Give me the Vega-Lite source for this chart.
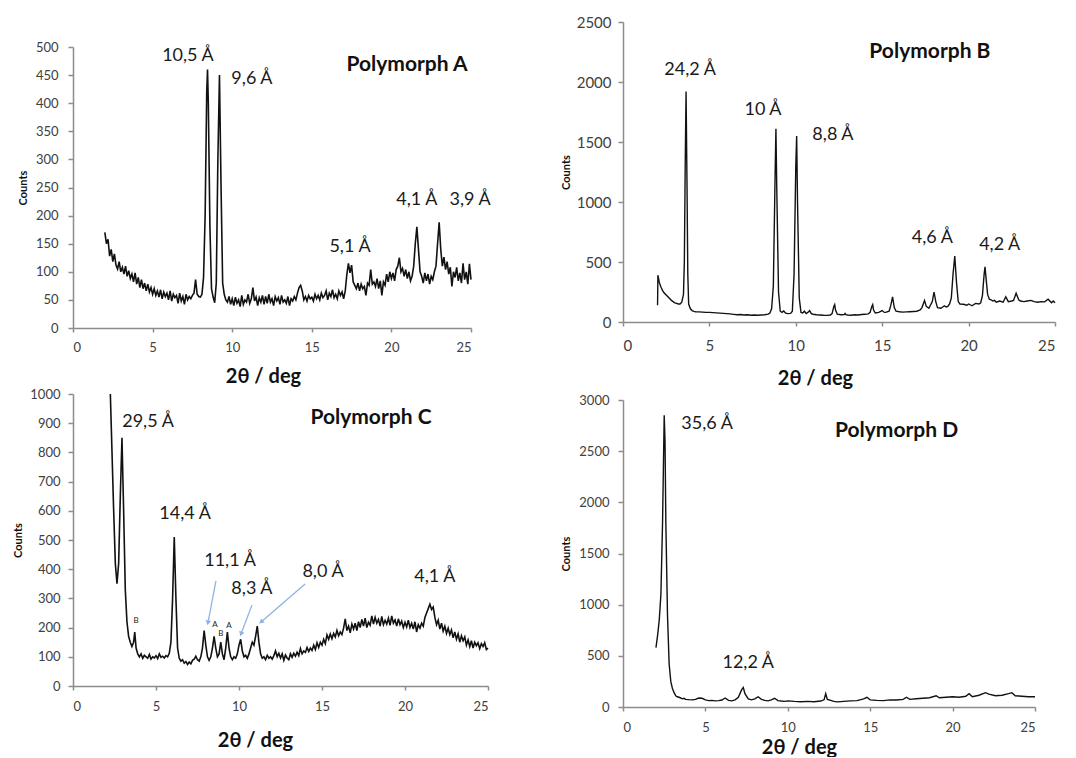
{
"$schema": "https://vega.github.io/schema/vega-lite/v6.json",
"padding": {"left": 12, "top": 15, "right": 5, "bottom": 0},
"background": "white",
"config": {
  "font": "Lato",
  "view": {"stroke": null},
  "axis": {"grid": false, "format": "d", "domainColor": "#8c8c8c", "tickColor": "#8c8c8c", "domainWidth": 1.5, "tickWidth": 1.5, "labelColor": "#404040", "titleColor": "#111111", "labelFont": "Lato", "titleFont": "Lato", "labelFontSize": 13, "titleFontWeight": "bold"},
  "text": {"font": "Lato"},
  "title": {"font": "Lato"}
},
"datasets": {
"A": [{"t":2.0,"c":170},{"t":2.1,"c":150},{"t":2.2,"c":158},{"t":2.3,"c":128},{"t":2.4,"c":140},{"t":2.5,"c":118},{"t":2.6,"c":132},{"t":2.7,"c":112},{"t":2.8,"c":105},{"t":2.9,"c":118},{"t":3.0,"c":100},{"t":3.1,"c":108},{"t":3.2,"c":96},{"t":3.3,"c":110},{"t":3.4,"c":92},{"t":3.5,"c":102},{"t":3.6,"c":88},{"t":3.7,"c":96},{"t":3.8,"c":82},{"t":3.9,"c":98},{"t":4.0,"c":78},{"t":4.1,"c":90},{"t":4.2,"c":72},{"t":4.3,"c":86},{"t":4.4,"c":70},{"t":4.5,"c":80},{"t":4.6,"c":66},{"t":4.7,"c":78},{"t":4.8,"c":64},{"t":4.9,"c":72},{"t":5.0,"c":60},{"t":5.1,"c":70},{"t":5.2,"c":58},{"t":5.3,"c":66},{"t":5.4,"c":55},{"t":5.5,"c":68},{"t":5.6,"c":52},{"t":5.7,"c":64},{"t":5.8,"c":56},{"t":5.9,"c":62},{"t":6.0,"c":50},{"t":6.1,"c":66},{"t":6.2,"c":48},{"t":6.3,"c":60},{"t":6.4,"c":54},{"t":6.5,"c":58},{"t":6.6,"c":44},{"t":6.7,"c":62},{"t":6.8,"c":48},{"t":6.9,"c":56},{"t":7.0,"c":42},{"t":7.1,"c":60},{"t":7.2,"c":50},{"t":7.3,"c":56},{"t":7.4,"c":52},{"t":7.5,"c":58},{"t":7.6,"c":62},{"t":7.7,"c":86},{"t":7.8,"c":60},{"t":7.9,"c":56},{"t":8.0,"c":55},{"t":8.1,"c":60},{"t":8.2,"c":90},{"t":8.3,"c":200},{"t":8.4,"c":420},{"t":8.45,"c":460},{"t":8.5,"c":400},{"t":8.6,"c":180},{"t":8.7,"c":70},{"t":8.8,"c":55},{"t":8.9,"c":45},{"t":9.0,"c":80},{"t":9.1,"c":300},{"t":9.2,"c":450},{"t":9.3,"c":250},{"t":9.4,"c":80},{"t":9.5,"c":60},{"t":9.6,"c":50},{"t":9.7,"c":46},{"t":9.8,"c":56},{"t":9.9,"c":42},{"t":10.0,"c":52},{"t":10.1,"c":40},{"t":10.2,"c":55},{"t":10.3,"c":44},{"t":10.4,"c":50},{"t":10.5,"c":38},{"t":10.6,"c":58},{"t":10.7,"c":42},{"t":10.8,"c":50},{"t":10.9,"c":46},{"t":11.0,"c":60},{"t":11.1,"c":44},{"t":11.2,"c":52},{"t":11.3,"c":72},{"t":11.4,"c":48},{"t":11.5,"c":55},{"t":11.6,"c":40},{"t":11.7,"c":54},{"t":11.8,"c":46},{"t":11.9,"c":58},{"t":12.0,"c":42},{"t":12.1,"c":56},{"t":12.2,"c":44},{"t":12.3,"c":60},{"t":12.4,"c":46},{"t":12.5,"c":52},{"t":12.6,"c":40},{"t":12.7,"c":56},{"t":12.8,"c":48},{"t":12.9,"c":54},{"t":13.0,"c":42},{"t":13.1,"c":58},{"t":13.2,"c":46},{"t":13.3,"c":50},{"t":13.4,"c":44},{"t":13.5,"c":56},{"t":13.6,"c":40},{"t":13.7,"c":52},{"t":13.8,"c":48},{"t":13.9,"c":56},{"t":14.0,"c":50},{"t":14.1,"c":62},{"t":14.2,"c":72},{"t":14.3,"c":76},{"t":14.4,"c":66},{"t":14.5,"c":50},{"t":14.6,"c":56},{"t":14.7,"c":48},{"t":14.8,"c":58},{"t":14.9,"c":52},{"t":15.0,"c":55},{"t":15.1,"c":48},{"t":15.2,"c":60},{"t":15.3,"c":52},{"t":15.4,"c":58},{"t":15.5,"c":50},{"t":15.6,"c":62},{"t":15.7,"c":54},{"t":15.8,"c":58},{"t":15.9,"c":66},{"t":16.0,"c":50},{"t":16.1,"c":62},{"t":16.2,"c":56},{"t":16.3,"c":68},{"t":16.4,"c":54},{"t":16.5,"c":60},{"t":16.6,"c":52},{"t":16.7,"c":66},{"t":16.8,"c":58},{"t":16.9,"c":64},{"t":17.0,"c":52},{"t":17.1,"c":66},{"t":17.2,"c":95},{"t":17.3,"c":115},{"t":17.4,"c":98},{"t":17.5,"c":112},{"t":17.6,"c":82},{"t":17.7,"c":76},{"t":17.8,"c":70},{"t":17.9,"c":80},{"t":18.0,"c":66},{"t":18.1,"c":78},{"t":18.2,"c":70},{"t":18.3,"c":74},{"t":18.4,"c":58},{"t":18.5,"c":80},{"t":18.6,"c":76},{"t":18.7,"c":104},{"t":18.8,"c":78},{"t":18.9,"c":82},{"t":19.0,"c":74},{"t":19.1,"c":88},{"t":19.2,"c":70},{"t":19.3,"c":84},{"t":19.4,"c":58},{"t":19.5,"c":82},{"t":19.6,"c":76},{"t":19.7,"c":96},{"t":19.8,"c":82},{"t":19.9,"c":100},{"t":20.0,"c":88},{"t":20.1,"c":98},{"t":20.2,"c":84},{"t":20.3,"c":104},{"t":20.4,"c":110},{"t":20.5,"c":125},{"t":20.6,"c":100},{"t":20.7,"c":106},{"t":20.8,"c":92},{"t":20.9,"c":104},{"t":21.0,"c":88},{"t":21.1,"c":100},{"t":21.2,"c":84},{"t":21.3,"c":92},{"t":21.4,"c":110},{"t":21.5,"c":150},{"t":21.6,"c":180},{"t":21.7,"c":140},{"t":21.8,"c":100},{"t":21.9,"c":92},{"t":22.0,"c":80},{"t":22.1,"c":98},{"t":22.2,"c":84},{"t":22.3,"c":96},{"t":22.4,"c":78},{"t":22.5,"c":92},{"t":22.6,"c":86},{"t":22.7,"c":100},{"t":22.8,"c":110},{"t":22.9,"c":150},{"t":23.0,"c":188},{"t":23.1,"c":140},{"t":23.2,"c":110},{"t":23.3,"c":126},{"t":23.4,"c":104},{"t":23.5,"c":118},{"t":23.6,"c":96},{"t":23.7,"c":108},{"t":23.8,"c":74},{"t":23.9,"c":100},{"t":24.0,"c":90},{"t":24.1,"c":108},{"t":24.2,"c":84},{"t":24.3,"c":98},{"t":24.4,"c":80},{"t":24.5,"c":115},{"t":24.6,"c":86},{"t":24.7,"c":100},{"t":24.8,"c":78},{"t":24.9,"c":114},{"t":25.0,"c":86}],
"B": [{"t":2.0,"c":140},{"t":2.02,"c":390},{"t":2.1,"c":330},{"t":2.2,"c":290},{"t":2.3,"c":260},{"t":2.4,"c":240},{"t":2.5,"c":225},{"t":2.6,"c":210},{"t":2.7,"c":195},{"t":2.8,"c":180},{"t":2.9,"c":170},{"t":3.0,"c":160},{"t":3.1,"c":155},{"t":3.2,"c":150},{"t":3.3,"c":150},{"t":3.4,"c":165},{"t":3.5,"c":230},{"t":3.55,"c":500},{"t":3.6,"c":1300},{"t":3.65,"c":1920},{"t":3.7,"c":1200},{"t":3.75,"c":400},{"t":3.8,"c":150},{"t":3.9,"c":110},{"t":4.0,"c":95},{"t":4.1,"c":88},{"t":4.2,"c":86},{"t":4.4,"c":84},{"t":4.6,"c":82},{"t":4.8,"c":80},{"t":5.0,"c":80},{"t":5.2,"c":78},{"t":5.4,"c":76},{"t":5.6,"c":74},{"t":5.8,"c":72},{"t":6.0,"c":70},{"t":6.2,"c":68},{"t":6.4,"c":64},{"t":6.6,"c":60},{"t":6.8,"c":62},{"t":7.0,"c":58},{"t":7.2,"c":60},{"t":7.4,"c":56},{"t":7.6,"c":58},{"t":7.8,"c":56},{"t":8.0,"c":58},{"t":8.2,"c":60},{"t":8.4,"c":66},{"t":8.5,"c":75},{"t":8.6,"c":110},{"t":8.7,"c":300},{"t":8.8,"c":1200},{"t":8.85,"c":1610},{"t":8.9,"c":1100},{"t":9.0,"c":250},{"t":9.1,"c":90},{"t":9.2,"c":80},{"t":9.3,"c":92},{"t":9.4,"c":75},{"t":9.5,"c":70},{"t":9.7,"c":72},{"t":9.8,"c":90},{"t":9.9,"c":400},{"t":10.0,"c":1300},{"t":10.05,"c":1550},{"t":10.1,"c":1000},{"t":10.2,"c":200},{"t":10.3,"c":80},{"t":10.4,"c":75},{"t":10.5,"c":90},{"t":10.6,"c":70},{"t":10.7,"c":80},{"t":10.8,"c":95},{"t":10.9,"c":70},{"t":11.0,"c":65},{"t":11.2,"c":60},{"t":11.4,"c":58},{"t":11.6,"c":56},{"t":11.8,"c":55},{"t":12.0,"c":58},{"t":12.1,"c":70},{"t":12.2,"c":130},{"t":12.25,"c":145},{"t":12.3,"c":100},{"t":12.4,"c":65},{"t":12.6,"c":60},{"t":12.8,"c":62},{"t":12.85,"c":72},{"t":12.9,"c":62},{"t":13.0,"c":58},{"t":13.2,"c":56},{"t":13.4,"c":60},{"t":13.6,"c":58},{"t":13.8,"c":62},{"t":14.0,"c":64},{"t":14.2,"c":68},{"t":14.3,"c":80},{"t":14.4,"c":130},{"t":14.45,"c":145},{"t":14.5,"c":100},{"t":14.6,"c":75},{"t":14.8,"c":80},{"t":15.0,"c":95},{"t":15.1,"c":82},{"t":15.2,"c":80},{"t":15.4,"c":90},{"t":15.5,"c":140},{"t":15.6,"c":210},{"t":15.7,"c":120},{"t":15.8,"c":90},{"t":16.0,"c":85},{"t":16.2,"c":82},{"t":16.4,"c":84},{"t":16.6,"c":86},{"t":16.8,"c":88},{"t":17.0,"c":90},{"t":17.2,"c":100},{"t":17.3,"c":120},{"t":17.45,"c":180},{"t":17.55,"c":130},{"t":17.7,"c":115},{"t":17.9,"c":170},{"t":18.0,"c":250},{"t":18.1,"c":170},{"t":18.2,"c":120},{"t":18.4,"c":115},{"t":18.6,"c":135},{"t":18.7,"c":125},{"t":18.8,"c":130},{"t":18.9,"c":150},{"t":19.0,"c":200},{"t":19.1,"c":400},{"t":19.2,"c":550},{"t":19.3,"c":330},{"t":19.4,"c":170},{"t":19.5,"c":150},{"t":19.7,"c":148},{"t":19.9,"c":140},{"t":20.0,"c":150},{"t":20.2,"c":135},{"t":20.4,"c":155},{"t":20.6,"c":150},{"t":20.7,"c":160},{"t":20.8,"c":220},{"t":20.9,"c":400},{"t":20.95,"c":460},{"t":21.0,"c":380},{"t":21.1,"c":230},{"t":21.2,"c":190},{"t":21.3,"c":185},{"t":21.4,"c":175},{"t":21.5,"c":180},{"t":21.6,"c":165},{"t":21.8,"c":175},{"t":22.0,"c":165},{"t":22.15,"c":210},{"t":22.3,"c":170},{"t":22.5,"c":175},{"t":22.6,"c":180},{"t":22.75,"c":240},{"t":22.9,"c":185},{"t":23.0,"c":175},{"t":23.2,"c":170},{"t":23.4,"c":175},{"t":23.6,"c":180},{"t":23.8,"c":170},{"t":24.0,"c":165},{"t":24.2,"c":170},{"t":24.4,"c":168},{"t":24.6,"c":190},{"t":24.8,"c":160},{"t":24.9,"c":175},{"t":25.0,"c":160}],
"C": [{"t":2.25,"c":1000},{"t":2.35,"c":800},{"t":2.45,"c":600},{"t":2.55,"c":420},{"t":2.65,"c":350},{"t":2.75,"c":420},{"t":2.85,"c":650},{"t":2.95,"c":850},{"t":3.05,"c":600},{"t":3.15,"c":330},{"t":3.25,"c":220},{"t":3.35,"c":170},{"t":3.45,"c":150},{"t":3.55,"c":135},{"t":3.65,"c":150},{"t":3.72,"c":185},{"t":3.8,"c":130},{"t":3.9,"c":110},{"t":4.0,"c":100},{"t":4.1,"c":110},{"t":4.2,"c":95},{"t":4.3,"c":105},{"t":4.4,"c":100},{"t":4.5,"c":95},{"t":4.6,"c":108},{"t":4.7,"c":92},{"t":4.8,"c":100},{"t":4.9,"c":96},{"t":5.0,"c":104},{"t":5.1,"c":94},{"t":5.2,"c":110},{"t":5.3,"c":98},{"t":5.4,"c":102},{"t":5.5,"c":96},{"t":5.6,"c":104},{"t":5.7,"c":100},{"t":5.8,"c":112},{"t":5.9,"c":150},{"t":6.0,"c":300},{"t":6.1,"c":510},{"t":6.2,"c":300},{"t":6.3,"c":130},{"t":6.4,"c":95},{"t":6.5,"c":85},{"t":6.6,"c":90},{"t":6.7,"c":78},{"t":6.8,"c":84},{"t":6.9,"c":74},{"t":7.0,"c":82},{"t":7.1,"c":76},{"t":7.2,"c":88},{"t":7.3,"c":92},{"t":7.4,"c":102},{"t":7.5,"c":90},{"t":7.6,"c":85},{"t":7.7,"c":100},{"t":7.8,"c":130},{"t":7.9,"c":190},{"t":8.0,"c":140},{"t":8.1,"c":100},{"t":8.2,"c":88},{"t":8.3,"c":100},{"t":8.4,"c":130},{"t":8.5,"c":170},{"t":8.6,"c":130},{"t":8.7,"c":100},{"t":8.8,"c":110},{"t":8.9,"c":150},{"t":9.0,"c":110},{"t":9.1,"c":90},{"t":9.2,"c":130},{"t":9.3,"c":185},{"t":9.4,"c":130},{"t":9.5,"c":100},{"t":9.6,"c":90},{"t":9.7,"c":100},{"t":9.8,"c":95},{"t":9.9,"c":110},{"t":10.0,"c":140},{"t":10.1,"c":160},{"t":10.2,"c":120},{"t":10.3,"c":100},{"t":10.4,"c":105},{"t":10.5,"c":95},{"t":10.6,"c":110},{"t":10.7,"c":130},{"t":10.8,"c":150},{"t":10.9,"c":140},{"t":11.0,"c":170},{"t":11.1,"c":205},{"t":11.2,"c":150},{"t":11.3,"c":110},{"t":11.4,"c":95},{"t":11.5,"c":100},{"t":11.6,"c":90},{"t":11.7,"c":105},{"t":11.8,"c":95},{"t":11.9,"c":100},{"t":12.0,"c":92},{"t":12.1,"c":104},{"t":12.2,"c":120},{"t":12.3,"c":100},{"t":12.4,"c":112},{"t":12.5,"c":96},{"t":12.6,"c":110},{"t":12.7,"c":88},{"t":12.8,"c":106},{"t":12.9,"c":96},{"t":13.0,"c":90},{"t":13.1,"c":110},{"t":13.2,"c":98},{"t":13.3,"c":112},{"t":13.4,"c":102},{"t":13.5,"c":116},{"t":13.6,"c":104},{"t":13.7,"c":128},{"t":13.8,"c":110},{"t":13.9,"c":120},{"t":14.0,"c":115},{"t":14.1,"c":132},{"t":14.2,"c":118},{"t":14.3,"c":130},{"t":14.4,"c":122},{"t":14.5,"c":140},{"t":14.6,"c":125},{"t":14.7,"c":148},{"t":14.8,"c":132},{"t":14.9,"c":150},{"t":15.0,"c":140},{"t":15.1,"c":160},{"t":15.2,"c":145},{"t":15.3,"c":175},{"t":15.4,"c":160},{"t":15.5,"c":178},{"t":15.6,"c":162},{"t":15.7,"c":180},{"t":15.8,"c":168},{"t":15.9,"c":190},{"t":16.0,"c":172},{"t":16.1,"c":185},{"t":16.2,"c":176},{"t":16.3,"c":198},{"t":16.4,"c":230},{"t":16.5,"c":190},{"t":16.6,"c":205},{"t":16.7,"c":182},{"t":16.8,"c":212},{"t":16.9,"c":195},{"t":17.0,"c":215},{"t":17.1,"c":190},{"t":17.2,"c":220},{"t":17.3,"c":200},{"t":17.4,"c":228},{"t":17.5,"c":205},{"t":17.6,"c":232},{"t":17.7,"c":200},{"t":17.8,"c":218},{"t":17.9,"c":208},{"t":18.0,"c":240},{"t":18.1,"c":212},{"t":18.2,"c":235},{"t":18.3,"c":215},{"t":18.4,"c":228},{"t":18.5,"c":205},{"t":18.6,"c":238},{"t":18.7,"c":210},{"t":18.8,"c":225},{"t":18.9,"c":212},{"t":19.0,"c":232},{"t":19.1,"c":208},{"t":19.2,"c":240},{"t":19.3,"c":215},{"t":19.4,"c":226},{"t":19.5,"c":205},{"t":19.6,"c":230},{"t":19.7,"c":210},{"t":19.8,"c":222},{"t":19.9,"c":200},{"t":20.0,"c":218},{"t":20.1,"c":202},{"t":20.2,"c":225},{"t":20.3,"c":200},{"t":20.4,"c":215},{"t":20.5,"c":195},{"t":20.6,"c":220},{"t":20.7,"c":185},{"t":20.8,"c":210},{"t":20.9,"c":198},{"t":21.0,"c":215},{"t":21.1,"c":205},{"t":21.2,"c":235},{"t":21.3,"c":250},{"t":21.4,"c":265},{"t":21.5,"c":280},{"t":21.6,"c":262},{"t":21.7,"c":270},{"t":21.8,"c":235},{"t":21.9,"c":210},{"t":22.0,"c":225},{"t":22.1,"c":195},{"t":22.2,"c":215},{"t":22.3,"c":188},{"t":22.4,"c":205},{"t":22.5,"c":180},{"t":22.6,"c":198},{"t":22.7,"c":176},{"t":22.8,"c":192},{"t":22.9,"c":165},{"t":23.0,"c":185},{"t":23.1,"c":160},{"t":23.2,"c":178},{"t":23.3,"c":150},{"t":23.4,"c":172},{"t":23.5,"c":155},{"t":23.6,"c":168},{"t":23.7,"c":140},{"t":23.8,"c":158},{"t":23.9,"c":135},{"t":24.0,"c":155},{"t":24.1,"c":130},{"t":24.2,"c":150},{"t":24.3,"c":138},{"t":24.4,"c":148},{"t":24.5,"c":128},{"t":24.6,"c":145},{"t":24.7,"c":135},{"t":24.8,"c":148},{"t":24.9,"c":125},{"t":25.0,"c":130}],
"D": [{"t":2.0,"c":580},{"t":2.1,"c":700},{"t":2.2,"c":850},{"t":2.3,"c":1100},{"t":2.4,"c":1800},{"t":2.5,"c":2850},{"t":2.55,"c":2600},{"t":2.6,"c":1800},{"t":2.7,"c":900},{"t":2.8,"c":420},{"t":2.9,"c":250},{"t":3.0,"c":180},{"t":3.1,"c":140},{"t":3.2,"c":110},{"t":3.3,"c":100},{"t":3.4,"c":95},{"t":3.5,"c":88},{"t":3.6,"c":80},{"t":3.7,"c":85},{"t":3.8,"c":75},{"t":4.0,"c":72},{"t":4.2,"c":70},{"t":4.4,"c":75},{"t":4.6,"c":88},{"t":4.8,"c":85},{"t":5.0,"c":70},{"t":5.2,"c":62},{"t":5.4,"c":65},{"t":5.6,"c":60},{"t":5.8,"c":62},{"t":6.0,"c":68},{"t":6.2,"c":88},{"t":6.4,"c":65},{"t":6.6,"c":60},{"t":6.8,"c":70},{"t":7.0,"c":95},{"t":7.2,"c":170},{"t":7.3,"c":190},{"t":7.4,"c":130},{"t":7.6,"c":80},{"t":7.8,"c":70},{"t":8.0,"c":80},{"t":8.2,"c":100},{"t":8.4,"c":75},{"t":8.6,"c":65},{"t":8.8,"c":60},{"t":9.0,"c":70},{"t":9.2,"c":85},{"t":9.4,"c":62},{"t":9.6,"c":58},{"t":9.8,"c":55},{"t":10.0,"c":60},{"t":10.4,"c":55},{"t":10.8,"c":52},{"t":11.2,"c":55},{"t":11.6,"c":52},{"t":12.0,"c":58},{"t":12.2,"c":70},{"t":12.3,"c":130},{"t":12.4,"c":75},{"t":12.6,"c":65},{"t":12.8,"c":55},{"t":13.0,"c":50},{"t":13.4,"c":55},{"t":13.8,"c":60},{"t":14.2,"c":62},{"t":14.6,"c":80},{"t":14.8,"c":95},{"t":15.0,"c":70},{"t":15.4,"c":65},{"t":15.8,"c":62},{"t":16.2,"c":70},{"t":16.6,"c":68},{"t":17.0,"c":75},{"t":17.2,"c":95},{"t":17.4,"c":75},{"t":17.8,"c":80},{"t":18.2,"c":85},{"t":18.6,"c":90},{"t":19.0,"c":110},{"t":19.2,"c":90},{"t":19.6,"c":95},{"t":20.0,"c":100},{"t":20.4,"c":95},{"t":20.8,"c":105},{"t":21.0,"c":130},{"t":21.2,"c":100},{"t":21.6,"c":115},{"t":22.0,"c":140},{"t":22.2,"c":125},{"t":22.6,"c":110},{"t":23.0,"c":115},{"t":23.4,"c":130},{"t":23.6,"c":140},{"t":23.8,"c":110},{"t":24.2,"c":105},{"t":24.6,"c":100},{"t":25.0,"c":100}],
"labels": [
{"p":"A","kind":"peak","t":7.22,"c":484,"label":"10,5 Å"},
{"p":"A","kind":"peak","t":11.24,"c":443,"label":"9,6 Å"},
{"p":"A","kind":"name","t":20.98,"c":468,"label":"Polymorph A"},
{"p":"A","kind":"peak","t":17.4,"c":144,"label":"5,1 Å"},
{"p":"A","kind":"peak","t":21.6,"c":228,"label":"4,1 Å"},
{"p":"A","kind":"peak","t":24.94,"c":228,"label":"3,9 Å"},
{"p":"B","kind":"peak","t":3.88,"c":2100,"label":"24,2 Å"},
{"p":"B","kind":"peak","t":8.1,"c":1767,"label":"10 Å"},
{"p":"B","kind":"peak","t":12.15,"c":1558,"label":"8,8 Å"},
{"p":"B","kind":"name","t":17.76,"c":2250,"label":"Polymorph B"},
{"p":"B","kind":"peak","t":17.9,"c":700,"label":"4,6 Å"},
{"p":"B","kind":"peak","t":21.8,"c":642,"label":"4,2 Å"},
{"p":"C","kind":"peak","t":4.52,"c":904,"label":"29,5 Å"},
{"p":"C","kind":"name","t":17.95,"c":918,"label":"Polymorph C"},
{"p":"C","kind":"peak","t":6.75,"c":589,"label":"14,4 Å"},
{"p":"C","kind":"peak","t":9.46,"c":428,"label":"11,1 Å"},
{"p":"C","kind":"peak","t":10.78,"c":332,"label":"8,3 Å"},
{"p":"C","kind":"peak","t":15.06,"c":390,"label":"8,0 Å"},
{"p":"C","kind":"peak","t":21.8,"c":373,"label":"4,1 Å"},
{"p":"C","kind":"small","t":3.8,"c":223,"label":"B"},
{"p":"C","kind":"small","t":8.55,"c":209,"label":"A"},
{"p":"C","kind":"small","t":8.9,"c":178,"label":"B"},
{"p":"C","kind":"small","t":9.4,"c":205,"label":"A"},
{"p":"D","kind":"peak","t":5.1,"c":2766,"label":"35,6 Å"},
{"p":"D","kind":"name","t":16.6,"c":2698,"label":"Polymorph D"},
{"p":"D","kind":"peak","t":7.6,"c":430,"label":"12,2 Å"}
],
"arrows": [
{"id":"a1","t1":8.61,"c1":360,"t2":8.13,"c2":216},
{"id":"a2","t1":10.78,"c1":277,"t2":10.12,"c2":178},
{"id":"a3","t1":13.98,"c1":349,"t2":11.33,"c2":219}
]
},
"columns": 2,
"align": "none",
"spacing": {"row": 0, "column": 68},
"concat": [
 {"width": 398, "height": 306,
  "encoding": {
   "x": {"field": "t", "type": "quantitative", "scale": {"domain": [0, 25], "nice": false}, "axis": {"values": [0,5,10,15,20,25], "title": "2θ / deg", "titleFontSize": 20, "tickSize": 4, "labelPadding": 9, "titleX": 190, "titleY": 48, "titleBaseline": "middle"}},
   "y": {"field": "c", "type": "quantitative", "scale": {"domain": [0, 500], "nice": false, "range": [306, 25]}, "axis": {"values": [0,50,100,150,200,250,300,350,400,450,500], "title": "Counts", "titleFontSize": 11, "tickSize": 5, "labelPadding": 10, "titleX": -50, "titleBaseline": "middle"}}
  },
  "layer": [
   {"data": {"name": "A"}, "mark": {"type": "line", "color": "#111111", "strokeWidth": 1.6}},
   {"data": {"name": "labels"}, "transform": [{"filter": "datum.p === 'A' && datum.kind === 'peak'"}], "mark": {"type": "text", "fontSize": 18, "color": "#1a1a1a"}, "encoding": {"text": {"field": "label"}}},
   {"data": {"name": "labels"}, "transform": [{"filter": "datum.p === 'A' && datum.kind === 'name'"}], "mark": {"type": "text", "fontSize": 21, "fontWeight": "bold", "color": "#111111"}, "encoding": {"text": {"field": "label"}}}
  ]
 },
 {"width": 432, "height": 300,
  "encoding": {
   "x": {"field": "t", "type": "quantitative", "scale": {"domain": [0, 25], "nice": false}, "axis": {"values": [0,5,10,15,20,25], "title": "2θ / deg", "titleFontSize": 20, "labelFontSize": 15, "tickSize": 4, "labelPadding": 12, "titleX": 192, "titleY": 56, "titleBaseline": "middle"}},
   "y": {"field": "c", "type": "quantitative", "scale": {"domain": [0, 2500], "nice": false}, "axis": {"values": [0,500,1000,1500,2000,2500], "title": "Counts", "titleFontSize": 11, "labelFontSize": 15, "tickSize": 5, "labelPadding": 7, "titleX": -57, "titleBaseline": "middle"}}
  },
  "layer": [
   {"data": {"name": "B"}, "mark": {"type": "line", "color": "#111111", "strokeWidth": 1.4}},
   {"data": {"name": "labels"}, "transform": [{"filter": "datum.p === 'B' && datum.kind === 'peak'"}], "mark": {"type": "text", "fontSize": 18, "color": "#1a1a1a"}, "encoding": {"text": {"field": "label"}}},
   {"data": {"name": "labels"}, "transform": [{"filter": "datum.p === 'B' && datum.kind === 'name'"}], "mark": {"type": "text", "fontSize": 21, "fontWeight": "bold", "color": "#111111"}, "encoding": {"text": {"field": "label"}}}
  ]
 },
 {"width": 415, "height": 292,
  "encoding": {
   "x": {"field": "t", "type": "quantitative", "scale": {"domain": [0, 25], "nice": false}, "axis": {"values": [0,5,10,15,20,25], "title": "2θ / deg", "titleFontSize": 20, "tickSize": 4, "labelPadding": 10, "titleX": 182, "titleY": 54, "titleBaseline": "middle"}},
   "y": {"field": "c", "type": "quantitative", "scale": {"domain": [0, 1000], "nice": false}, "axis": {"values": [0,100,200,300,400,500,600,700,800,900,1000], "title": "Counts", "titleFontSize": 11, "tickSize": 5, "labelPadding": 8, "titleX": -55, "titleBaseline": "middle"}}
  },
  "layer": [
   {"data": {"name": "C"}, "mark": {"type": "line", "color": "#111111", "strokeWidth": 1.6}},
   {"data": {"name": "arrows"}, "mark": {"type": "rule", "color": "#8eb4e3", "strokeWidth": 1.3}, "encoding": {"x": {"field": "t1", "type": "quantitative"}, "y": {"field": "c1", "type": "quantitative"}, "x2": {"field": "t2"}, "y2": {"field": "c2"}}},
   {"data": {"name": "arrows"}, "transform": [{"filter": "datum.id === 'a1'"}], "mark": {"type": "point", "shape": "triangle-down", "filled": true, "size": 30, "color": "#8eb4e3", "opacity": 1, "angle": 11}, "encoding": {"x": {"field": "t2", "type": "quantitative"}, "y": {"field": "c2", "type": "quantitative"}}},
   {"data": {"name": "arrows"}, "transform": [{"filter": "datum.id === 'a2'"}], "mark": {"type": "point", "shape": "triangle-down", "filled": true, "size": 30, "color": "#8eb4e3", "opacity": 1, "angle": 21}, "encoding": {"x": {"field": "t2", "type": "quantitative"}, "y": {"field": "c2", "type": "quantitative"}}},
   {"data": {"name": "arrows"}, "transform": [{"filter": "datum.id === 'a3'"}], "mark": {"type": "point", "shape": "triangle-down", "filled": true, "size": 30, "color": "#8eb4e3", "opacity": 1, "angle": 49}, "encoding": {"x": {"field": "t2", "type": "quantitative"}, "y": {"field": "c2", "type": "quantitative"}}},
   {"data": {"name": "labels"}, "transform": [{"filter": "datum.p === 'C' && datum.kind === 'peak'"}], "mark": {"type": "text", "fontSize": 18, "color": "#1a1a1a"}, "encoding": {"text": {"field": "label"}}},
   {"data": {"name": "labels"}, "transform": [{"filter": "datum.p === 'C' && datum.kind === 'small'"}], "mark": {"type": "text", "fontSize": 8, "color": "#222222"}, "encoding": {"text": {"field": "label"}}},
   {"data": {"name": "labels"}, "transform": [{"filter": "datum.p === 'C' && datum.kind === 'name'"}], "mark": {"type": "text", "fontSize": 21, "fontWeight": "bold", "color": "#111111"}, "encoding": {"text": {"field": "label"}}}
  ]
 },
 {"width": 412, "height": 319,
  "encoding": {
   "x": {"field": "t", "type": "quantitative", "scale": {"domain": [0, 25], "nice": false}, "axis": {"values": [0,5,10,15,20,25], "title": "2θ / deg", "titleFontSize": 20, "tickSize": 4, "labelPadding": 10, "titleX": 176, "titleY": 40, "titleBaseline": "middle"}},
   "y": {"field": "c", "type": "quantitative", "scale": {"domain": [0, 3000], "nice": false, "range": [319, 12]}, "axis": {"values": [0,500,1000,1500,2000,2500,3000], "title": "Counts", "titleFontSize": 11, "tickSize": 5, "labelPadding": 9, "titleX": -57, "titleBaseline": "middle"}}
  },
  "layer": [
   {"data": {"name": "D"}, "mark": {"type": "line", "color": "#111111", "strokeWidth": 1.4}},
   {"data": {"name": "labels"}, "transform": [{"filter": "datum.p === 'D' && datum.kind === 'peak'"}], "mark": {"type": "text", "fontSize": 18, "color": "#1a1a1a"}, "encoding": {"text": {"field": "label"}}},
   {"data": {"name": "labels"}, "transform": [{"filter": "datum.p === 'D' && datum.kind === 'name'"}], "mark": {"type": "text", "fontSize": 21, "fontWeight": "bold", "color": "#111111"}, "encoding": {"text": {"field": "label"}}}
  ]
 }
]
}
